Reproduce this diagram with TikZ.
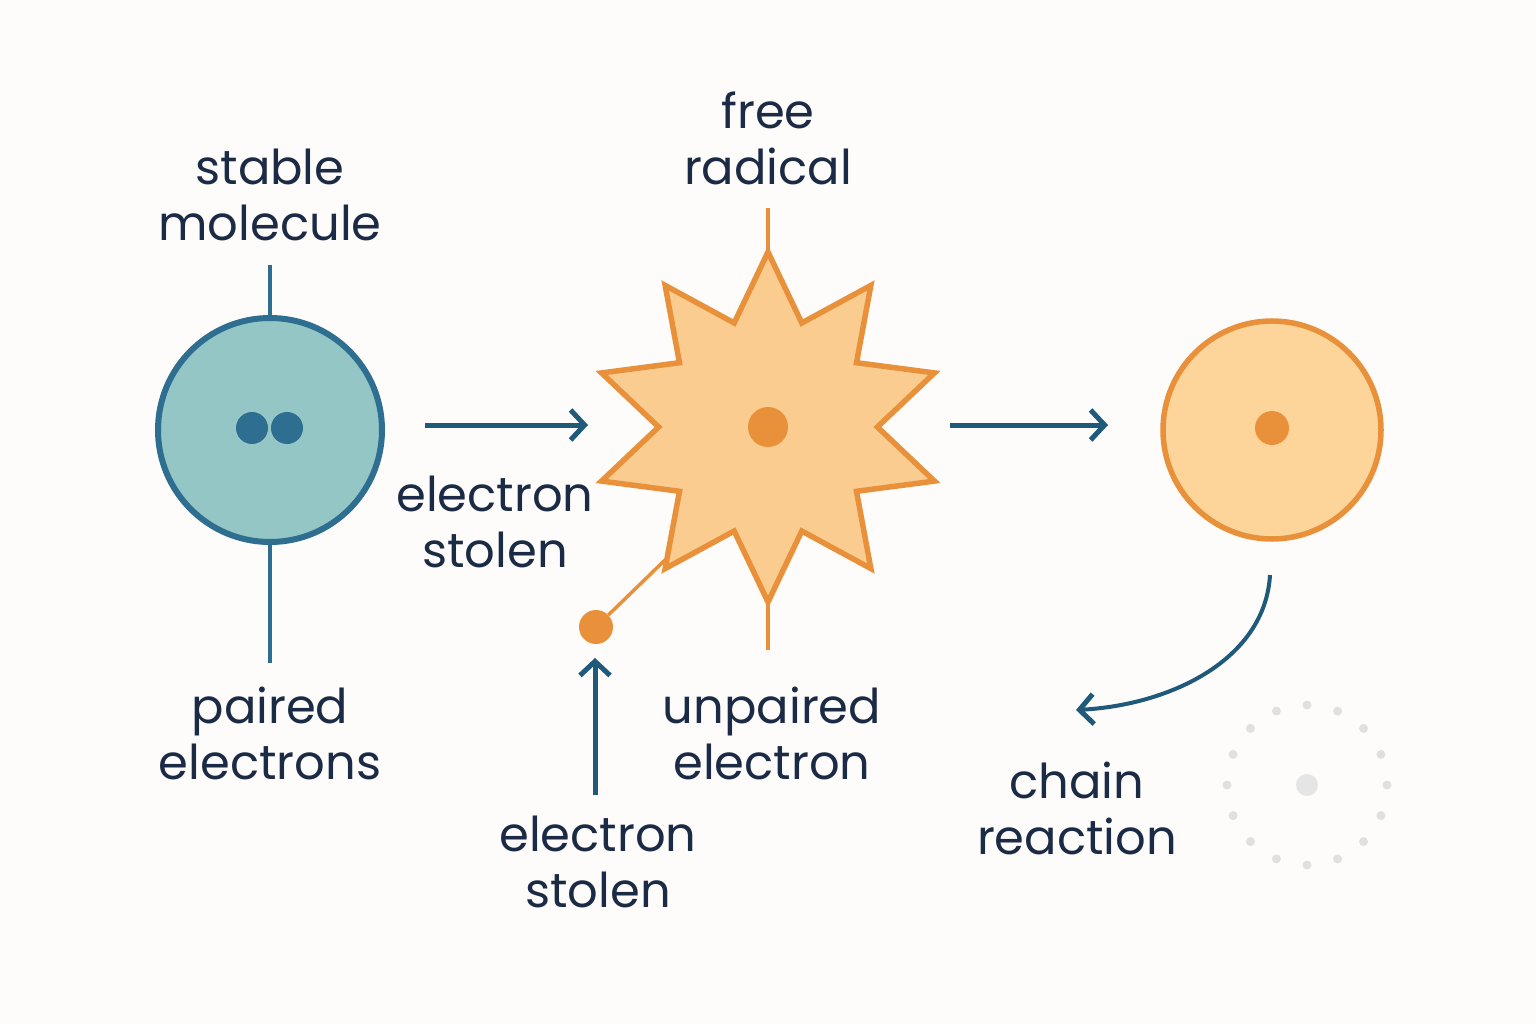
\documentclass[tikz,border=0pt]{standalone}
\usepackage{fontspec}
\setmainfont{Poppins}
\usetikzlibrary{shapes.geometric,arrows.meta}
\definecolor{bg}{HTML}{FDFCFA}
\definecolor{teal}{HTML}{94C6C6}
\definecolor{tealdk}{HTML}{2E6E90}
\definecolor{navy}{HTML}{1F5A7A}
\definecolor{orng}{HTML}{E8913A}
\definecolor{starfill}{HTML}{FACC8F}
\definecolor{circfill}{HTML}{FDD49A}
\definecolor{txt}{HTML}{1C2B45}
\begin{document}
\begin{tikzpicture}[x=1pt,y=-1pt,
  lbl/.style={text=txt,align=center,font=\fontsize{48}{56}\selectfont},
  arr/.style={draw=navy,line width=5pt,-{Straight Barb[length=14pt,width=30pt,line width=5pt]}},
  dot/.style={circle,inner sep=0pt,minimum size=#1}]
\fill[bg] (0,0) rectangle (1536,1024);
\useasboundingbox (0,0) rectangle (1536,1024);
% stable molecule
\draw[tealdk,line width=4pt] (270,265) -- (270,320) (270,540) -- (270,663);
\node[circle,draw=tealdk,fill=teal,line width=6pt,minimum size=224pt] (m) at (270,430) {};
\node[dot=32pt,fill=tealdk] (d1) at (252,428) {};
\node[dot=32pt,fill=tealdk] (d2) at (287,428) {};
\node[lbl] (t1) at (270,195) {stable\\molecule};
\node[lbl] (t2) at (270,733) {paired\\electrons};
% arrow 1
\coordinate (a1) at (425,425); \coordinate (a2) at (588,425);
\draw[arr] (a1) -- (a2);
\node[lbl] (t3) at (495,522) {electron\\stolen};
% star
\draw[orng,line width=3.5pt] (768,208) -- (768,255) (768,590) -- (768,650);
\node[star,star points=10,star point ratio=1.6,minimum size=350pt,draw=orng,fill=starfill,line width=5.5pt] (s) at (768,427) {};
\node[dot=40pt,fill=orng] (sd) at (768,427) {};
\node[dot=34pt,fill=orng] (e) at (596,627) {};
\coordinate (e2) at (665,560);
\draw[orng,line width=3.5pt] (e) -- (e2);
\coordinate (b1) at (595,795); \coordinate (b2) at (595,658);
\draw[arr] (b1) -- (b2);
\node[lbl] (t4) at (598,862) {electron\\stolen};
\node[lbl] (t5) at (768,138) {free\\radical};
\node[lbl] (t6) at (772,733) {unpaired\\electron};
% arrow 2
\coordinate (c1) at (950,425); \coordinate (c2) at (1108,425);
\draw[arr] (c1) -- (c2);
\node[circle,draw=orng,fill=circfill,line width=5.5pt,minimum size=218pt] (r) at (1272,430) {};
\node[dot=34pt,fill=orng] (rd) at (1272,428) {};
\coordinate (k1) at (1270,575); \coordinate (k2) at (1076,710);
\draw[arr,line width=4pt] (k1) .. controls (1265,660) and (1170,705) .. (k2);
\node[lbl] (t7) at (1077,808) {chain\\reaction};
% faint dotted circle
\foreach \a in {0,22.5,...,359} \fill[black!12] (1307,785) ++(\a:80) circle (4.5);
\node[dot=22pt,fill=black!10] (fd) at (1307,785) {};
\end{tikzpicture}
\end{document}
